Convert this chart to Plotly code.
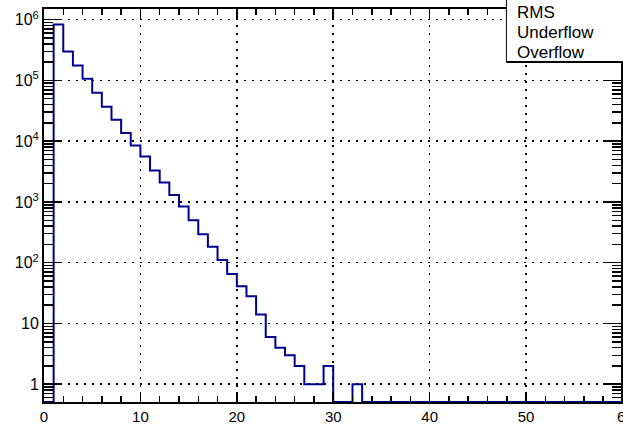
import plotly.graph_objects as go

# ---- data ----
bin_low_edges = list(range(0, 60))
bin_width = 1
counts = [0, 830000, 300000, 177000, 107000, 63000, 37000, 22500, 13600, 8500,
          5600, 3300, 2100, 1300, 840, 500, 294, 184, 111, 65,
          41, 28, 14, 6, 4, 3, 2, 1, 1, 2,
          0, 0, 1] + [0] * 27
stats_labels = ["RMS", "Underflow", "Overflow"]
y_major_vals = [1, 10, 100, 1e3, 1e4, 1e5, 1e6]
y_major_text = ["1", "10", "10<sup>2</sup>", "10<sup>3</sup>", "10<sup>4</sup>",
                "10<sup>5</sup>", "10<sup>6</sup>"]
x_major_vals = [0, 10, 20, 30, 40, 50]

Y_MIN = 0.51
Y_MAX = 1.5e6
X_MAX_VIEW = 59.85

xs = bin_low_edges + [bin_low_edges[-1] + bin_width]
ys = [c if c > 0 else Y_MIN for c in counts]
ys = ys + [ys[-1]]

y_minor = [m * 10 ** k for k in range(-1, 6) for m in range(2, 10) if m * 10 ** k >= Y_MIN]

LINE_COLOR = "#00008f"
FONT = "Liberation Sans, Arial, Helvetica, sans-serif"

fig = go.Figure()
fig.add_trace(go.Scatter(
    x=xs, y=ys, mode="lines", line=dict(color=LINE_COLOR, width=2, shape="hv"),
    hoverinfo="skip", showlegend=False, cliponaxis=True,
))

fig.update_layout(
    width=623, height=440,
    margin=dict(l=44, r=0, t=9, b=38),
    paper_bgcolor="white", plot_bgcolor="white",
    font=dict(family=FONT, color="black", size=15),
    showlegend=False,
)

fig.update_xaxes(
    range=[0, X_MAX_VIEW], tickmode="array", tickvals=x_major_vals,
    ticks="inside", ticklen=10, tickwidth=1.5, tickcolor="black",
    showline=True, linewidth=2, linecolor="black", mirror="allticks",
    showgrid=True, gridcolor="black", gridwidth=1.5, griddash="2px,6px",
    zeroline=False, tickfont=dict(size=15),
    minor=dict(tickmode="linear", tick0=0, dtick=2, ticks="inside", ticklen=6,
               tickwidth=1.5, tickcolor="black", showgrid=False),
)
fig.update_yaxes(
    type="log", range=[-0.2924, 6.17609],
    tickmode="array", tickvals=y_major_vals, ticktext=y_major_text,
    ticks="inside", ticklen=18, tickwidth=1.5, tickcolor="black",
    showline=True, linewidth=2, linecolor="black", mirror="allticks",
    showgrid=True, gridcolor="black", gridwidth=1.5, griddash="2px,6px",
    zeroline=False, tickfont=dict(size=16),
    minor=dict(tickmode="array", tickvals=y_minor, ticks="inside", ticklen=9,
               tickwidth=1.5, tickcolor="black", showgrid=False),
)

# label "60" that sits at the cut-off right edge
fig.add_annotation(x=60 / X_MAX_VIEW, y=0, xref="paper", yref="paper",
                   text="60", showarrow=False, xanchor="center", yanchor="top",
                   yshift=-4, xshift=3, font=dict(size=15))

# stats box (top-right, partly cut off)
fig.add_shape(type="rect", xref="paper", yref="paper",
              x0=(508 - 44) / 579, x1=1.05, y0=(402 - 62) / 393, y1=1.1,
              line=dict(color="black", width=1), fillcolor="white", layer="above")
fig.add_shape(type="line", xref="paper", yref="paper",
              x0=(508 - 44) / 579, x1=1.05, y0=(402 - 62) / 393, y1=(402 - 62) / 393,
              line=dict(color="black", width=2), layer="above")
for i, lab in enumerate(stats_labels):
    fig.add_annotation(x=(517 - 44) / 579, y=(402 - (12 + 20 * i)) / 393,
                       xref="paper", yref="paper", text=lab, showarrow=False,
                       xanchor="left", yanchor="middle", font=dict(size=17))

fig.write_html("out.html",
               config={"displayModeBar": False, "staticPlot": True},
               post_script="document.body.style.margin='0';document.body.style.overflow='hidden';")
